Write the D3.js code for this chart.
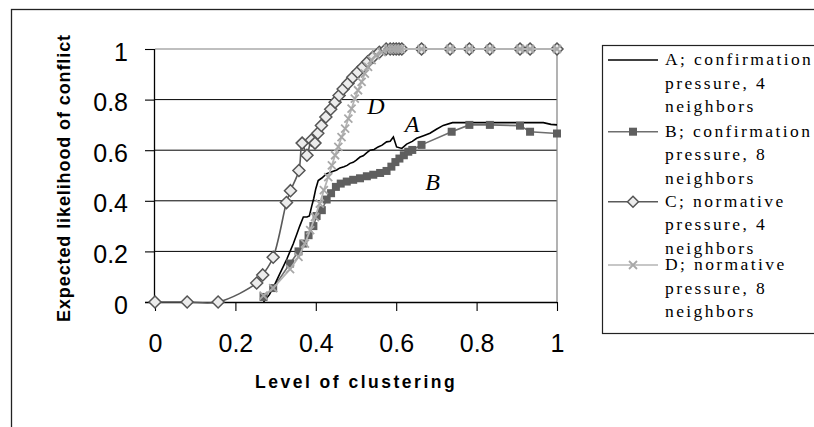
<!DOCTYPE html>
<html>
<head>
<meta charset="utf-8">
<script src="https://cdn.jsdelivr.net/npm/d3@7"></script>
<style>
  body { margin: 0; background: #fff; }
  svg { display: block; }
</style>
</head>
<body>
<div id="chart"></div>
<script>
const WIDTH = 814;
const HEIGHT = 427;

// values: [level of clustering, expected likelihood]
const seriesA = [
  [0.27, 0], [0.285, 0.03], [0.298, 0.07], [0.31, 0.11], [0.319, 0.14], [0.328, 0.17],
  [0.336, 0.2], [0.344, 0.23], [0.352, 0.265], [0.36, 0.3], [0.369, 0.336], [0.378, 0.336],
  [0.384, 0.34], [0.39, 0.38], [0.395, 0.41], [0.4, 0.448], [0.406, 0.48], [0.415, 0.49],
  [0.427, 0.507], [0.44, 0.515], [0.452, 0.522], [0.46, 0.53], [0.47, 0.535], [0.478, 0.54],
  [0.485, 0.548], [0.493, 0.552], [0.5, 0.56], [0.51, 0.573], [0.518, 0.578], [0.527, 0.59],
  [0.535, 0.6], [0.545, 0.603], [0.555, 0.613], [0.565, 0.62], [0.576, 0.633], [0.585, 0.635],
  [0.593, 0.652], [0.601, 0.613], [0.614, 0.607], [0.626, 0.624], [0.64, 0.635], [0.651, 0.647],
  [0.668, 0.657], [0.684, 0.667], [0.7, 0.683], [0.717, 0.698], [0.74, 0.709], [0.8, 0.709],
  [0.9, 0.709], [0.966, 0.709], [0.985, 0.702], [1, 0.7]
];
const seriesB = [
  [0.27, 0.02], [0.294, 0.055], [0.336, 0.152], [0.357, 0.2], [0.369, 0.231], [0.382, 0.264],
  [0.394, 0.3], [0.402, 0.34], [0.415, 0.363], [0.427, 0.405], [0.438, 0.43], [0.45, 0.455],
  [0.462, 0.468], [0.477, 0.476], [0.493, 0.483], [0.51, 0.489], [0.527, 0.497], [0.543, 0.503],
  [0.56, 0.51], [0.576, 0.518], [0.588, 0.535], [0.598, 0.553], [0.608, 0.567], [0.619, 0.58],
  [0.63, 0.594], [0.64, 0.601], [0.663, 0.621], [0.738, 0.673], [0.782, 0.7], [0.833, 0.7],
  [0.908, 0.697], [0.933, 0.673], [1, 0.666]
];
const seriesC = [
  [0, 0], [0.08, 0], [0.157, 0], [0.253, 0.075], [0.268, 0.107], [0.294, 0.177],
  [0.327, 0.393], [0.337, 0.44], [0.358, 0.52], [0.366, 0.628], [0.378, 0.58], [0.389, 0.64],
  [0.398, 0.628], [0.405, 0.667], [0.414, 0.698], [0.425, 0.731], [0.437, 0.762], [0.448, 0.79],
  [0.458, 0.816], [0.468, 0.842], [0.48, 0.864], [0.492, 0.888], [0.504, 0.908], [0.517, 0.929],
  [0.529, 0.949], [0.542, 0.968], [0.558, 0.987], [0.575, 1], [0.585, 1], [0.593, 1],
  [0.6, 1], [0.607, 1], [0.614, 1], [0.663, 1], [0.734, 1], [0.782, 1], [0.833, 1],
  [0.908, 1], [0.933, 1], [1, 1]
];
const seriesD = [
  [0.27, 0.025], [0.294, 0.055], [0.336, 0.13], [0.357, 0.178], [0.373, 0.231], [0.386, 0.284],
  [0.398, 0.336], [0.41, 0.389], [0.42, 0.442], [0.431, 0.494], [0.44, 0.54], [0.448, 0.58],
  [0.456, 0.613], [0.464, 0.652], [0.473, 0.685], [0.481, 0.725], [0.489, 0.764], [0.497, 0.804],
  [0.505, 0.837], [0.514, 0.87], [0.522, 0.903], [0.53, 0.929], [0.539, 0.956], [0.549, 0.975],
  [0.564, 0.988], [0.58, 1], [0.59, 1], [0.598, 1], [0.605, 1], [0.612, 1], [0.663, 1],
  [0.734, 1], [0.782, 1], [0.833, 1], [0.908, 1], [0.933, 1], [1, 1]
];
const xTicks = [0, 0.2, 0.4, 0.6, 0.8, 1];
const yTicks = [0, 0.2, 0.4, 0.6, 0.8, 1];
const legendLines = [
  ["A; confirmation", "pressure, 4", "neighbors"],
  ["B; confirmation", "pressure, 8", "neighbors"],
  ["C; normative", "pressure, 4", "neighbors"],
  ["D; normative", "pressure, 8", "neighbors"]
];
// curve tags placed next to the lines: [name, x, y] in data units
const curveTags = [["D", 0.528, 0.745], ["A", 0.621, 0.673], ["B", 0.672, 0.442]];

const SANS = "'Liberation Sans', Arial, sans-serif";
const SERIF = "'Liberation Serif', 'Times New Roman', serif";

const svg = d3.select("#chart").append("svg")
  .attr("width", WIDTH)
  .attr("height", HEIGHT);

// outer chart frame (runs off the right and bottom edges)
svg.append("rect")
  .attr("x", 11.5).attr("y", 9.5)
  .attr("width", 840).attr("height", 450)
  .style("fill", "none").style("stroke", "#222").style("stroke-width", 1.3);

const x = d3.scaleLinear().domain([0, 1]).range([155, 557]);
const y = d3.scaleLinear().domain([0, 1]).range([302, 49]);

// gridlines
svg.append("g")
  .selectAll("line")
  .data(yTicks.filter(d => d > 0 && d < 1))
  .enter()
  .append("line")
  .attr("x1", x(0)).attr("x2", x(1))
  .attr("y1", d => y(d)).attr("y2", d => y(d))
  .style("stroke", "#000").style("stroke-width", 1);

// plot area border (top and right, gray)
svg.append("path")
  .attr("d", `M${x(0)},${y(1)}H${x(1)}V${y(0)}`)
  .style("fill", "none").style("stroke", "#808080").style("stroke-width", 1.2);

const yAxis = svg.append("g")
  .attr("transform", `translate(${x(0)},0)`)
  .call(d3.axisLeft(y).tickValues(yTicks).tickSize(10).tickPadding(17).tickFormat(d3.format("~g")));
yAxis.selectAll("text")
  .attr("dy", "0.44em")
  .style("font-family", SANS).style("font-size", "25px").style("fill", "#000");

const xAxis = svg.append("g")
  .attr("transform", `translate(0,${y(0)})`)
  .call(d3.axisBottom(x).tickValues(xTicks).tickSize(9).tickPadding(0).tickFormat(d3.format("~g")));
xAxis.selectAll("text")
  .attr("y", 50).attr("dy", 0)
  .style("font-family", SANS).style("font-size", "25px").style("fill", "#000");
xAxis.select(".domain").attr("d", `M${x(0) - 10},0.5H${x(1)}`);

[yAxis, xAxis].forEach(ax => {
  ax.select(".domain").style("stroke", "#000").style("stroke-width", 1.3);
  ax.selectAll(".tick line").style("stroke", "#000").style("stroke-width", 1.1);
});
yAxis.select(".domain").attr("d", `M-0.5,${y(1)}V${y(0)}`);

// axis titles
svg.append("text")
  .attr("transform", `translate(70,178) rotate(-90)`)
  .attr("text-anchor", "middle")
  .style("font-family", SANS).style("font-weight", "bold")
  .style("font-size", "18px").style("letter-spacing", "0.9px")
  .text("Expected likelihood of conflict");

svg.append("text")
  .attr("x", 255).attr("y", 388)
  .style("font-family", SANS).style("font-weight", "bold")
  .style("font-size", "17.5px").style("letter-spacing", "2.5px")
  .text("Level of clustering");

const line = d3.line().x(d => x(d[0])).y(d => y(d[1]));
const smooth = d3.line().x(d => x(d[0])).y(d => y(d[1])).curve(d3.curveCatmullRom.alpha(0.5));

// series lines
svg.append("path").datum(seriesC).attr("d", smooth)
  .style("fill", "none").style("stroke", "#5a5a5a").style("stroke-width", 1.6);
svg.append("path").datum(seriesB).attr("d", line)
  .style("fill", "none").style("stroke", "#6e6e6e").style("stroke-width", 1.6);
svg.append("path").datum(seriesA).attr("d", line)
  .style("fill", "none").style("stroke", "#000").style("stroke-width", 1.6);

// C diamonds
const diamond = s => `M0,${-s}L${s},0L0,${s}L${-s},0Z`;
svg.append("g").selectAll("path")
  .data(seriesC).enter().append("path")
  .attr("transform", d => `translate(${x(d[0])},${y(d[1])})`)
  .attr("d", diamond(6))
  .style("fill", "#ececec").style("stroke", "#555").style("stroke-width", 1.5);

// B squares
svg.append("g").selectAll("rect")
  .data(seriesB).enter().append("rect")
  .attr("x", d => x(d[0]) - 4).attr("y", d => y(d[1]) - 4)
  .attr("width", 8).attr("height", 8)
  .style("fill", "#5f5f5f");

// D line and crosses on top
svg.append("path").datum(seriesD).attr("d", line)
  .style("fill", "none").style("stroke", "#b4b4b4").style("stroke-width", 1.8);
const cross = s => `M${-s},${-s}L${s},${s}M${-s},${s}L${s},${-s}`;
svg.append("g").selectAll("path")
  .data(seriesD).enter().append("path")
  .attr("transform", d => `translate(${x(d[0])},${y(d[1])})`)
  .attr("d", cross(4))
  .style("fill", "none").style("stroke", "#a8a8a8").style("stroke-width", 1.8);

// curve tags
svg.append("g").selectAll("text")
  .data(curveTags).enter().append("text")
  .attr("x", d => x(d[1])).attr("y", d => y(d[2]))
  .style("font-family", SERIF).style("font-style", "italic").style("font-size", "24px")
  .text(d => d[0]);

// legend
const legend = svg.append("g");
legend.append("rect")
  .attr("x", 602.5).attr("y", 45.5).attr("width", 260).attr("height", 288)
  .style("fill", "#fff").style("stroke", "#222").style("stroke-width", 1.2);

const entryBase = [65, 136.7, 206.7, 270];
const sampleStroke = ["#000", "#6e6e6e", "#5a5a5a", "#b4b4b4"];
legendLines.forEach((rows, i) => {
  const by = entryBase[i];
  const ly = by - 5;
  legend.append("line")
    .attr("x1", 608).attr("x2", 658).attr("y1", ly).attr("y2", ly)
    .style("stroke", sampleStroke[i]).style("stroke-width", 1.6);
  const mx = 633;
  if (i === 1) {
    legend.append("rect").attr("x", mx - 4).attr("y", ly - 4).attr("width", 8).attr("height", 8)
      .style("fill", "#5f5f5f");
  } else if (i === 2) {
    legend.append("path").attr("transform", `translate(${mx},${ly})`).attr("d", diamond(5.5))
      .style("fill", "#ececec").style("stroke", "#555").style("stroke-width", 1.5);
  } else if (i === 3) {
    legend.append("path").attr("transform", `translate(${mx},${ly})`).attr("d", cross(4))
      .style("fill", "none").style("stroke", "#a8a8a8").style("stroke-width", 1.8);
  }
  rows.forEach((r, j) => {
    legend.append("text")
      .attr("x", 665).attr("y", by + j * 23.6)
      .style("font-family", SERIF).style("font-size", "17.5px").style("letter-spacing", "2.4px")
      .text(r);
  });
});
</script>
</body>
</html>
